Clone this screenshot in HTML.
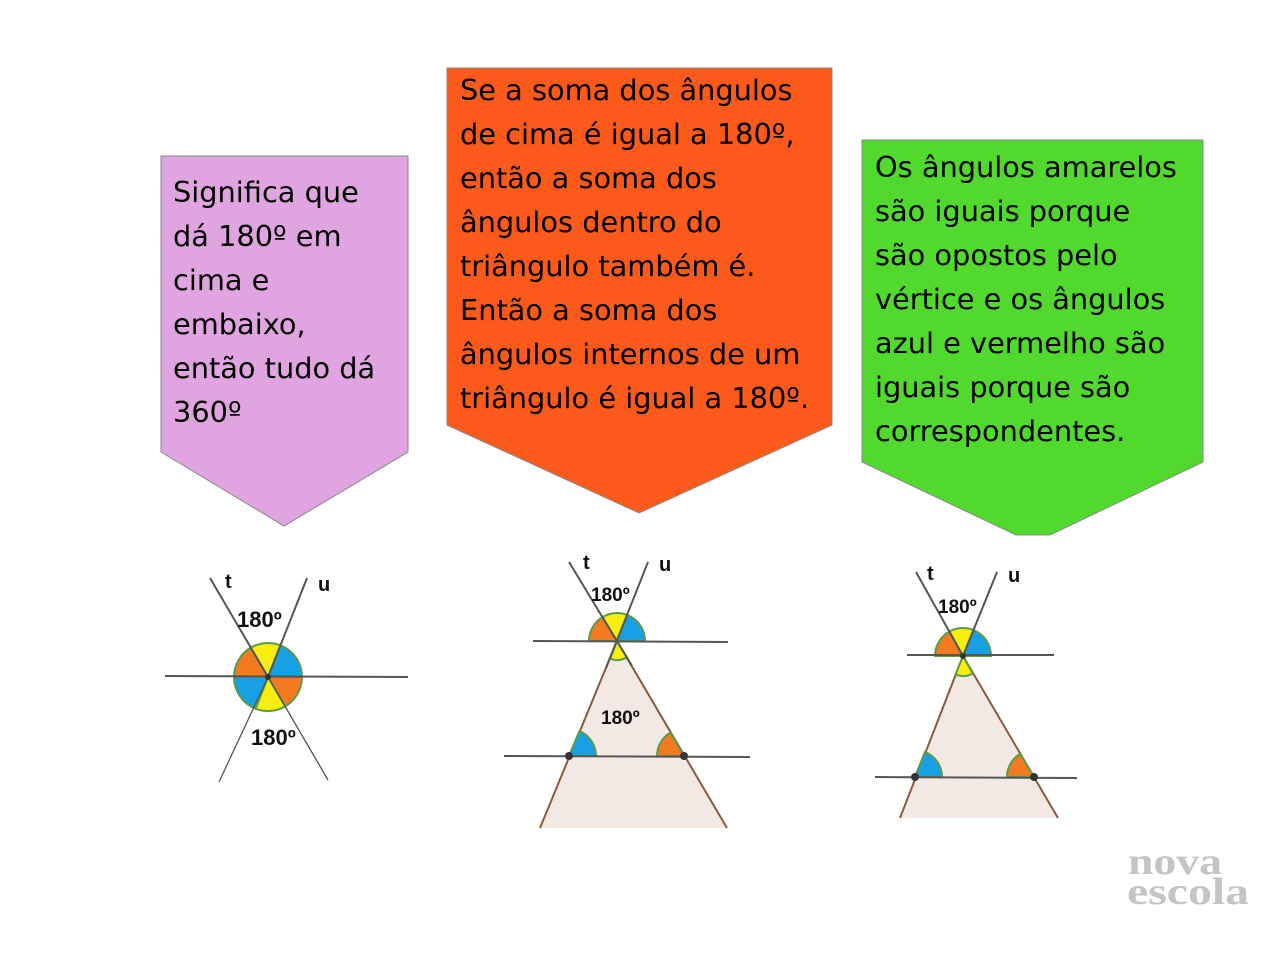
<!DOCTYPE html>
<html><head><meta charset="utf-8"><style>
html,body{margin:0;padding:0;background:#fff;}
svg{display:block;}
.t{font-family:"DejaVu Sans","Liberation Sans",sans-serif;font-size:28.8px;fill:#000;}
.l{font-family:"Liberation Sans",sans-serif;font-size:20px;font-weight:bold;fill:#111;}
</style></head><body>
<svg id="s" width="1280" height="960" viewBox="0 0 1280 960" xmlns="http://www.w3.org/2000/svg">
<polygon points="161,156 408,156 408,452 284,526 161,452" fill="#e0a5e0" stroke="#888" stroke-width="1"/>
<polygon points="447,68 832,68 832,425 639,513 447,425" fill="#fc5a1a" stroke="#888" stroke-width="1"/>
<polygon points="862,140 1203,140 1203,462 1050,535 1016,535 862,462" fill="#52d92e" stroke="#888" stroke-width="1"/>
<g class="t">
<text x="173" y="202">Significa que</text>
<text x="173" y="246">dá 180º em</text>
<text x="173" y="290">cima e</text>
<text x="173" y="334">embaixo,</text>
<text x="173" y="378">então tudo dá</text>
<text x="173" y="422">360º</text>
<text x="460" y="100">Se a soma dos ângulos</text>
<text x="460" y="144">de cima é igual a 180º,</text>
<text x="460" y="188">então a soma dos</text>
<text x="460" y="232">ângulos dentro do</text>
<text x="460" y="276">triângulo também é.</text>
<text x="460" y="320">Então a soma dos</text>
<text x="460" y="364">ângulos internos de um</text>
<text x="460" y="408">triângulo é igual a 180º.</text>
<text x="875" y="177">Os ângulos amarelos</text>
<text x="875" y="221">são iguais porque</text>
<text x="875" y="265">são opostos pelo</text>
<text x="875" y="309">vértice e os ângulos</text>
<text x="875" y="353">azul e vermelho são</text>
<text x="875" y="397">iguais porque são</text>
<text x="875" y="441">correspondentes.</text>
</g>
<polygon points="617,641 540,828 727,828" fill="#f3e9e4"/>
<line x1="617" y1="641" x2="540" y2="828" stroke="#8b5a3c" stroke-width="2"/>
<line x1="617" y1="641" x2="727" y2="828" stroke="#8b5a3c" stroke-width="2"/>
<polygon points="963,656 900,818 1058,818" fill="#f3e9e4"/>
<line x1="963" y1="656" x2="900" y2="818" stroke="#8b5a3c" stroke-width="2"/>
<line x1="963" y1="656" x2="1058" y2="818" stroke="#8b5a3c" stroke-width="2"/>
<g id="sec"></g>
<g stroke="#555" stroke-width="2" fill="none">
<line x1="165" y1="676" x2="408" y2="677"/>
<line x1="210" y1="578" x2="268" y2="677"/><line x1="307" y1="578" x2="268" y2="677"/>
<line x1="268" y1="677" x2="328" y2="780" stroke-width="1.3"/><line x1="268" y1="677" x2="219" y2="782" stroke-width="1.3"/>
<line x1="533" y1="641" x2="728" y2="642"/>
<line x1="504" y1="756" x2="750" y2="757"/>
<line x1="569" y1="562" x2="632" y2="666"/><line x1="648" y1="562" x2="606" y2="668"/>
<line x1="907" y1="655" x2="1054" y2="655"/>
<line x1="875" y1="777" x2="1077" y2="778"/>
<line x1="916" y1="572" x2="963" y2="656"/><line x1="997" y1="572" x2="963" y2="656"/>
</g>
<g fill="#333">
<circle cx="268" cy="677" r="3"/><circle cx="569" cy="756" r="4"/><circle cx="684" cy="756" r="4"/>
<circle cx="963" cy="656" r="3"/><circle cx="915" cy="777" r="4"/><circle cx="1034" cy="777" r="4"/>
</g>
<g class="l">
<text x="225" y="588">t</text><text x="318" y="591">u</text>
<text x="237" y="627" font-size="22">180º</text><text x="251" y="745" font-size="22">180º</text>
<text x="583" y="569">t</text><text x="659" y="571">u</text>
<text x="591" y="601" font-size="19">180º</text><text x="601" y="724" font-size="19">180º</text>
<text x="927" y="580">t</text><text x="1008" y="582">u</text>
<text x="938" y="613" font-size="19">180º</text>
</g>
<g font-family="Liberation Serif,serif" font-weight="bold" fill="#c4c4c4" font-size="38">
<text x="1128" y="874" textLength="94" lengthAdjust="spacingAndGlyphs">nova</text>
<text x="1127" y="904" textLength="122" lengthAdjust="spacingAndGlyphs">escola</text>
</g>
</svg>
<script>
var g=document.getElementById('sec'),ns='http://www.w3.org/2000/svg';
var O='#f47a20',Y='#f7ee10',B='#18a0e6';
function s(cx,cy,r,a1,a2,c){var d=Math.PI/180,x1=cx+r*Math.cos(a1*d),y1=cy+r*Math.sin(a1*d),x2=cx+r*Math.cos(a2*d),y2=cy+r*Math.sin(a2*d);
var p=document.createElementNS(ns,'path');p.setAttribute('d','M'+cx+' '+cy+'L'+x1+' '+y1+'A'+r+' '+r+' 0 0 1 '+x2+' '+y2+'Z');
p.setAttribute('fill',c);p.setAttribute('stroke','#5a9a4a');p.setAttribute('stroke-width','2');g.appendChild(p);}
s(268,677,34,180,239.6,O);s(268,677,34,239.6,291.5,Y);s(268,677,34,291.5,360,B);
s(268,677,34,0,59.6,O);s(268,677,34,59.6,111.5,Y);s(268,677,34,111.5,180,B);
s(617,641,28,180,238.7,O);s(617,641,28,238.7,291.4,Y);s(617,641,28,291.4,360,B);
s(617,641,19,58.7,111.4,Y);
s(569,756,27,292.7,360,B);s(684,756,27,180,239.8,O);
s(963,656,28,180,240.8,O);s(963,656,28,240.8,292,Y);s(963,656,28,292,360,B);
s(963,656,20,60.8,112,Y);
s(915,777,27,291.6,360,B);s(1034,777,27,180,239.6,O);
</script>
</body></html>
